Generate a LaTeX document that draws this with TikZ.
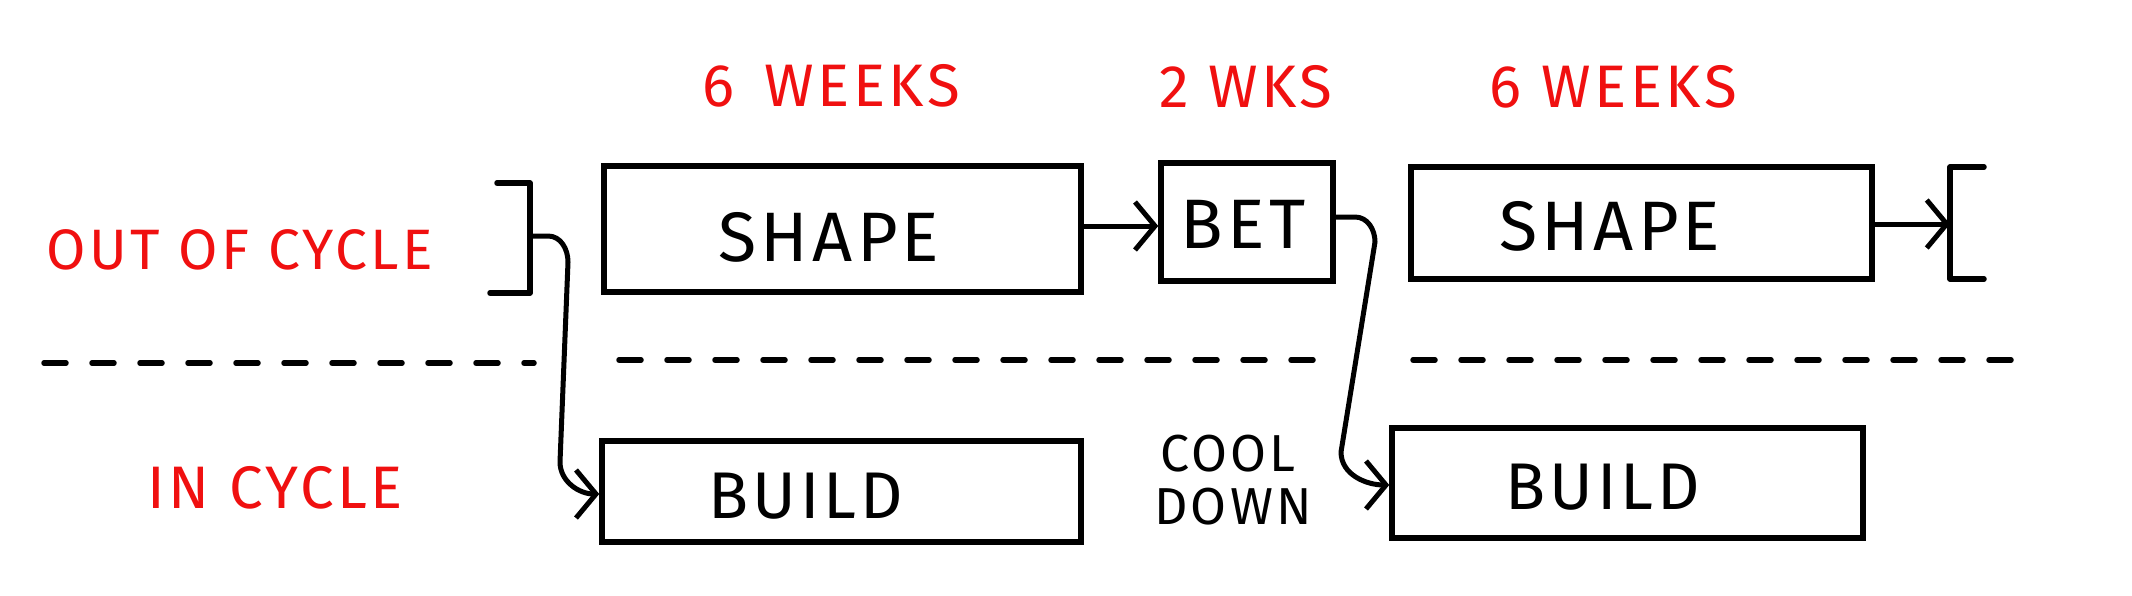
\documentclass[tikz,border=0pt]{standalone}
\usepackage{fontspec}
\setmainfont{Fira Sans}
\newfontfamily\sketchfont[LetterSpace=6]{Fira Sans}
\usetikzlibrary{arrows.meta}
\definecolor{inkred}{RGB}{240,16,16}
\tikzset{
  box/.style={draw, line width=5.5pt, rectangle, inner sep=0pt},
  lbl/.style={text=inkred, font=\sketchfont\fontsize{60}{60}\selectfont, inner sep=0pt, anchor=center},
  word/.style={font=\sketchfont\fontsize{70}{70}\selectfont, inner sep=0pt, anchor=center},
  small/.style={font=\sketchfont\fontsize{52}{52}\selectfont, inner sep=0pt, anchor=center},
  conn/.style={line width=5pt, line cap=round, line join=round,
    -{Straight Barb[length=20pt,width=48pt,line width=5pt]}},
  brk/.style={line width=5.5pt, line cap=round, line join=round},
  rule/.style={line width=5.5pt, dash pattern=on 22pt off 26pt, line cap=round}
}
\begin{document}
\begin{tikzpicture}[x=1pt,y=-1pt]
\useasboundingbox (0,0) rectangle (2132,596);
\fill[white] (0,0) rectangle (2132,596);

% red labels
\node[lbl] (w1) at (831,86) {6\hspace{30pt}WEEKS};
\node[lbl] (w2) at (1246,87) {2 WKS};
\node[lbl] (w3) at (1613,87) {6\hspace{20pt}WEEKS};
\node[lbl, font=\sketchfont\fontsize{57}{57}\selectfont] (ooc) at (240,250) {OUT OF CYCLE};
\node[lbl] (inc) at (275,488) {IN\hspace{20pt}CYCLE};

% boxes
\node[box, minimum width=477pt, minimum height=126pt] (shape1) at (842.5,229) {};
\node[box, minimum width=172pt, minimum height=118pt] (bet) at (1247,222) {};
\node[box, minimum width=461pt, minimum height=112pt] (shape2) at (1641.5,223) {};
\node[box, minimum width=479pt, minimum height=101pt] (build1) at (841.5,491.5) {};
\node[box, minimum width=471pt, minimum height=110pt] (build2) at (1627.5,483) {};

% box texts
\node[word] (t1) at (829,237) {SHAPE};
\node[word] (t2) at (1243,224) {BET};
\node[word] (t3) at (1610,226) {SHAPE};
\node[word, font=\sketchfont\fontsize{66}{66}\selectfont] (t4) at (806,496) {BUILD};
\node[word, font=\sketchfont\fontsize{66}{66}\selectfont] (t5) at (1603,487) {BUILD};
\node[small] (cool) at (1228,454) {COOL};
\node[small] (down) at (1233,507) {DOWN};

% brackets
\draw[brk] (497,183) -- (530,183) -- (530,293) -- (490,293);
\coordinate (lb) at (530,236);
\draw[brk] (1984,167) -- (1950,167) -- (1950,279) -- (1984,279);
\coordinate (rb) at (1950,224);

% dashed divider
\coordinate (d0) at (44,363);
\coordinate (d1) at (534,363);
\coordinate (d2) at (619,360);
\coordinate (d3) at (1331,360);
\coordinate (d4) at (1413,360);
\coordinate (d5) at (2031,360);
\draw[rule] (d0) -- (d1);
\draw[rule] (d2) -- (d3);
\draw[rule] (d4) -- (d5);

% connectors
\draw[conn] (lb) -- (548,236) to[out=0,in=90] (568,262) -- (560,462)
  to[out=-90,in=180] (build1.west |- 0,494);
\draw[conn] (shape1.east |- 0,226) -- (bet.west |- 0,226);
\draw[conn] (bet.east |- 0,217) -- (1355,217) to[out=0,in=90] (1375,242)
  -- (1341,452) to[out=-90,in=180] (build2.west |- 0,485);
\draw[conn] (shape2.east |- 0,224) -- (rb);
\end{tikzpicture}
\end{document}
